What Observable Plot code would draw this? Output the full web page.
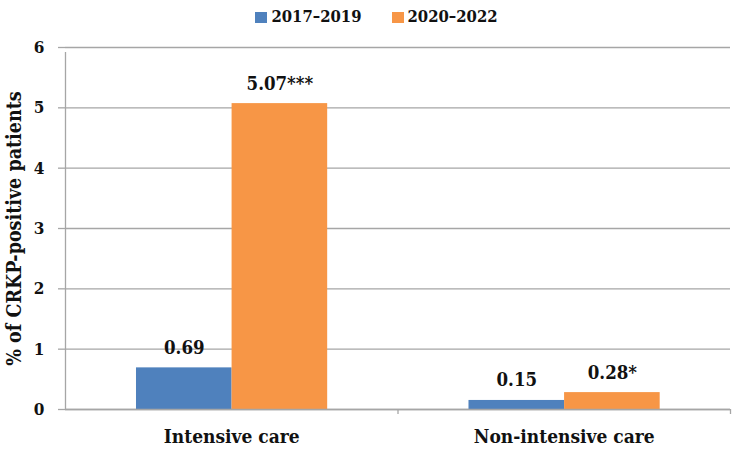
<!DOCTYPE html>
<html>
<head>
<meta charset="utf-8">
<script src="https://cdn.jsdelivr.net/npm/d3@7"></script>
<script src="https://cdn.jsdelivr.net/npm/@observablehq/plot@0.6"></script>
<style>
  html, body { margin: 0; padding: 0; background: #fff; }
  body { width: 735px; height: 454px; overflow: hidden; font-family: "DejaVu Serif Condensed", "Liberation Serif", serif; }
  #legend { height: 35px; display: flex; justify-content: center; align-items: flex-start; gap: 30px; padding-left: 18px; box-sizing: border-box; padding-top: 7px; font-weight: bold; font-size: 16.5px; color: #111; line-height: 20px; }
  #legend span.item { display: flex; align-items: center; gap: 4px; }
  #legend span.sw { display: inline-block; width: 12px; height: 11px; }
</style>
</head>
<body>
<div id="legend"></div>
<div id="chart"></div>
<script>
// ---- data ----
const categories = ["Intensive care", "Non-intensive care"];
const periods = ["2017–2019", "2020–2022"];
const values2017_2019 = [0.69, 0.15];
const values2020_2022 = [5.07, 0.28];
const marks2020_2022 = ["***", "*"];
const yTicks = [0, 1, 2, 3, 4, 5, 6];
const colors = ["#4F81BD", "#F79646"];

// ---- layout constants (fractions of a category slot) ----
const outerPad = 0.2135;   // gap from slot edge to first bar
const barFrac = 0.2875;    // width of one bar

const rows = [];
categories.forEach((c, i) => {
  rows.push({cat: c, i, period: periods[0], value: values2017_2019[i], label: values2017_2019[i].toFixed(2),
             x1: i + outerPad, x2: i + outerPad + barFrac});
  rows.push({cat: c, i, period: periods[1], value: values2020_2022[i], label: values2020_2022[i].toFixed(2) + marks2020_2022[i],
             x1: i + outerPad + barFrac, x2: i + outerPad + 2 * barFrac});
});

// legend
const legend = document.getElementById("legend");
periods.forEach((p, k) => {
  const s = document.createElement("span");
  s.className = "item";
  s.innerHTML = `<span class="sw" style="background:${colors[k]}"></span>${p}`;
  legend.appendChild(s);
});

const font = "'DejaVu Serif Condensed', 'Liberation Serif', serif";
const gray = "#a6a6a6";
const chart = Plot.plot({
  width: 735,
  height: 419,
  marginTop: 12,
  marginBottom: 45,
  marginLeft: 65,
  marginRight: 5,
  style: {fontFamily: font, fontWeight: "bold", color: "#111", background: "#fff"},
  x: {domain: [0, categories.length], axis: null},
  y: {domain: [0, 6], ticks: yTicks, label: null},
  color: {domain: periods, range: colors},
  marks: [
    Plot.gridY(yTicks, {stroke: gray, strokeOpacity: 1, strokeWidth: 1.3}),
    Plot.axisY(yTicks, {tickSize: 7, stroke: gray, strokeWidth: 1.3, tickPadding: 14, fontSize: 17, fontFamily: font, fill: "#111", label: null, tickFormat: d => String(d)}),
    Plot.rectY(rows, {x1: "x1", x2: "x2", y1: 0, y2: "value", fill: "period"}),
    Plot.ruleY([0], {stroke: gray, strokeWidth: 1.3}),
    Plot.ruleX([0], {y1: 0, y2: 6, insetBottom: -5, stroke: gray, strokeWidth: 1.3}),
    Plot.ruleX(d3.range(1, categories.length + 1), {y1: 0, y2: 0, insetBottom: -5, stroke: gray, strokeWidth: 1.3}),
    Plot.text(rows, {x: d => (d.x1 + d.x2) / 2, y: "value", text: "label", dy: -20, fontSize: 18.5, fontFamily: font, fill: "#111"}),
    Plot.text(categories, {x: (d, i) => i + 0.5, frameAnchor: "bottom", dy: 33, fontSize: 19, fontFamily: font, fill: "#111", text: d => d}),
    Plot.text(["% of CRKP-positive patients"], {frameAnchor: "left", textAnchor: "middle", dx: -51, rotate: -90, fontSize: 19.5, fontFamily: font, fill: "#111", text: d => d})
  ]
});
document.getElementById("chart").appendChild(chart);
</script>
</body>
</html>
